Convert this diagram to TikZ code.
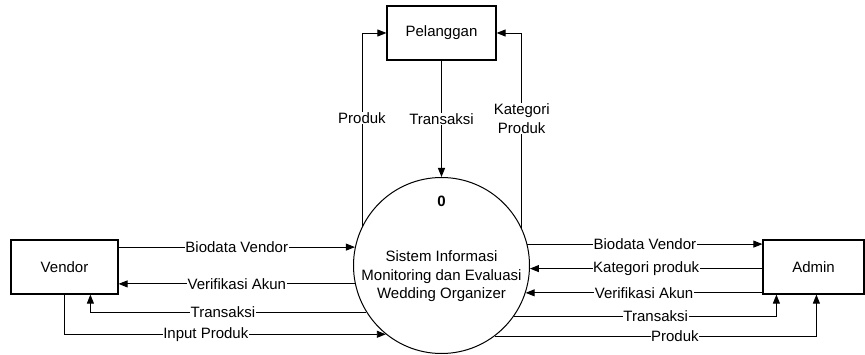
\documentclass[tikz,border=0pt]{standalone}
\usepackage{fontspec}
\setmainfont{Liberation Sans}
\usetikzlibrary{arrows.meta}
\begin{document}
\begin{tikzpicture}[x=1pt,y=-1pt,
  font=\fontsize{15}{18.5}\selectfont,
  entity/.style={draw,line width=1.2pt,minimum width=#1,minimum height=54pt,inner sep=0pt},
  process/.style={draw,line width=1pt,circle,minimum size=176pt,inner sep=0pt},
  flow/.style={line width=0.9pt,-{Triangle[length=9pt,width=7pt]}},
  lbl/.style={fill=white,inner sep=0.6pt,align=center}]
\useasboundingbox[fill=white] (0,0) rectangle (865,355);

% external entities and the single process
\node[entity=107pt] (vendor) at (64.5,267) {Vendor};
\node[entity=101pt] (admin) at (813.5,267) {Admin};
\node[entity=109pt] (pel) at (441.5,33) {Pelanggan};
\node[process] (sys) at (441.5,265.5) {};
\node[font=\fontsize{15}{18.5}\selectfont\bfseries] (num) at ([yshift=-24pt]sys.north) {0};
\node[align=center] (title) at ([yshift=-11pt]sys.center)
  {Sistem Informasi\\Monitoring dan Evaluasi\\Wedding Organizer};

% Vendor <-> system
\draw[flow] (vendor.east |- sys.168.5) -- node[lbl]{Biodata Vendor} (sys.168.5);
\draw[flow] (sys.192.8) -- node[lbl]{Verifikasi Akun} (sys.192.8 -| vendor.east);
\draw[flow] (sys.212.7) -| node[lbl,pos=0.26]{Transaksi} ([xshift=80pt]vendor.south west);
\draw[flow] ([xshift=54pt]vendor.south west) |- node[lbl,pos=0.72]{Input Produk} (sys.231.1);

% system <-> Admin
\draw[flow] (sys.14.1) -- node[lbl]{Biodata Vendor} (sys.14.1 -| admin.west);
\draw[flow] (admin.west |- sys.358.4) -- node[lbl]{Kategori produk} (sys.358.4);
\draw[flow] (admin.west |- sys.342.5) -- node[lbl]{Verifikasi Akun} (sys.342.5);
\draw[flow] (sys.325.8) -| node[lbl,pos=0.27]{Transaksi} ([xshift=14pt]admin.south west);
\draw[flow] (sys.307.8) -| node[lbl,pos=0.28]{Produk} ([xshift=54pt]admin.south west);

% system <-> Pelanggan
\draw[flow] (sys.154.6) |- node[lbl,pos=0.28]{Produk} (pel.west);
\draw[flow] (pel.south) -- node[lbl]{Transaksi} (sys.north);
\draw[flow] (sys.25.4) |- node[lbl,pos=0.28]{Kategori\\Produk} (pel.east);
\end{tikzpicture}
\end{document}
